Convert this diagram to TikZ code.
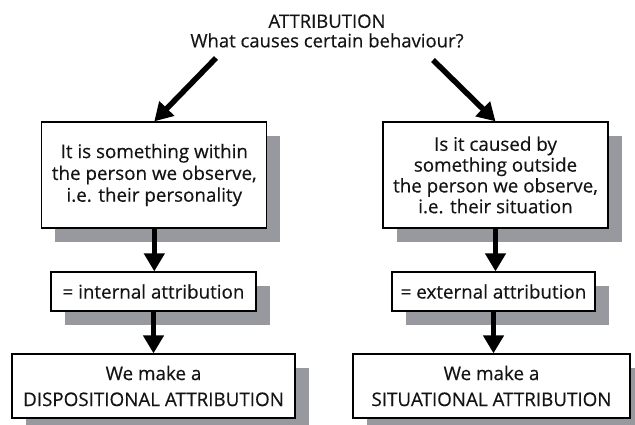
\documentclass[tikz,border=0pt]{standalone}
\usepackage{fontspec}
\setmainfont{Open Sans}[FakeBold=0.35]
\usetikzlibrary{arrows.meta,shadows}
\definecolor{shadowgray}{RGB}{152,153,158}
\definecolor{inkcol}{RGB}{20,20,20}
\begin{document}
\begin{tikzpicture}[x=1pt,y=-1pt,
  box/.style={draw=black, line width=1.3pt, fill=white, align=center, inner sep=0pt,
    text=inkcol, font=\fontsize{18.8}{21.8}\selectfont,
    drop shadow={shadow xshift=13.5pt, shadow yshift=-13.5pt, fill=shadowgray, draw=none, opacity=1}},
  arr/.style={line width=5.5pt, -{Triangle[length=18pt,width=20pt]}, black},
  titletext/.style={align=center, inner sep=0pt, text=inkcol, font=\fontsize{18.5}{19.5}\selectfont}]
\useasboundingbox (0,0) rectangle (635,424);
\fill[white] (0,0) rectangle (635,424);

\node[titletext] (title) at (327,31) {ATTRIBUTION\\What causes certain behaviour?};

\node[box, minimum width=225pt, minimum height=106pt] (L1) at (154.3,175)
  {It is something within\\the person we observe,\\i.e. their personality};
\node[box, minimum width=225pt, minimum height=106pt, font=\fontsize{18.8}{20.8}\selectfont] (R1) at (495.5,175)
  {Is it caused by\\something outside\\the person we observe,\\i.e. their situation};

\node[box, minimum width=205pt, minimum height=39pt] (L2) at (153.5,291.5) {= internal attribution};
\node[box, minimum width=203pt, minimum height=39pt] (R2) at (493.5,291.5) {= external attribution};

\node[box, minimum width=283pt, minimum height=64pt, font=\fontsize{18.8}{26}\selectfont] (L3) at (153.5,386)
  {We make a\\DISPOSITIONAL ATTRIBUTION};
\node[box, minimum width=277pt, minimum height=64pt, font=\fontsize{18.8}{26}\selectfont] (R3) at (491.5,386)
  {We make a\\SITUATIONAL ATTRIBUTION};

\coordinate (ls) at (216,58);
\coordinate (rs) at (433,60);
\draw[arr] (ls) -- (L1.north);
\draw[arr] (rs) -- (R1.north);

\draw[arr] (L1.south) -- (L1.south |- L2.north);
\draw[arr] (L2.south) -- (L2.south |- L3.north);
\draw[arr] (R1.south) -- (R1.south |- R2.north);
\draw[arr] (R2.south) -- (R2.south |- R3.north);
\end{tikzpicture}
\end{document}
